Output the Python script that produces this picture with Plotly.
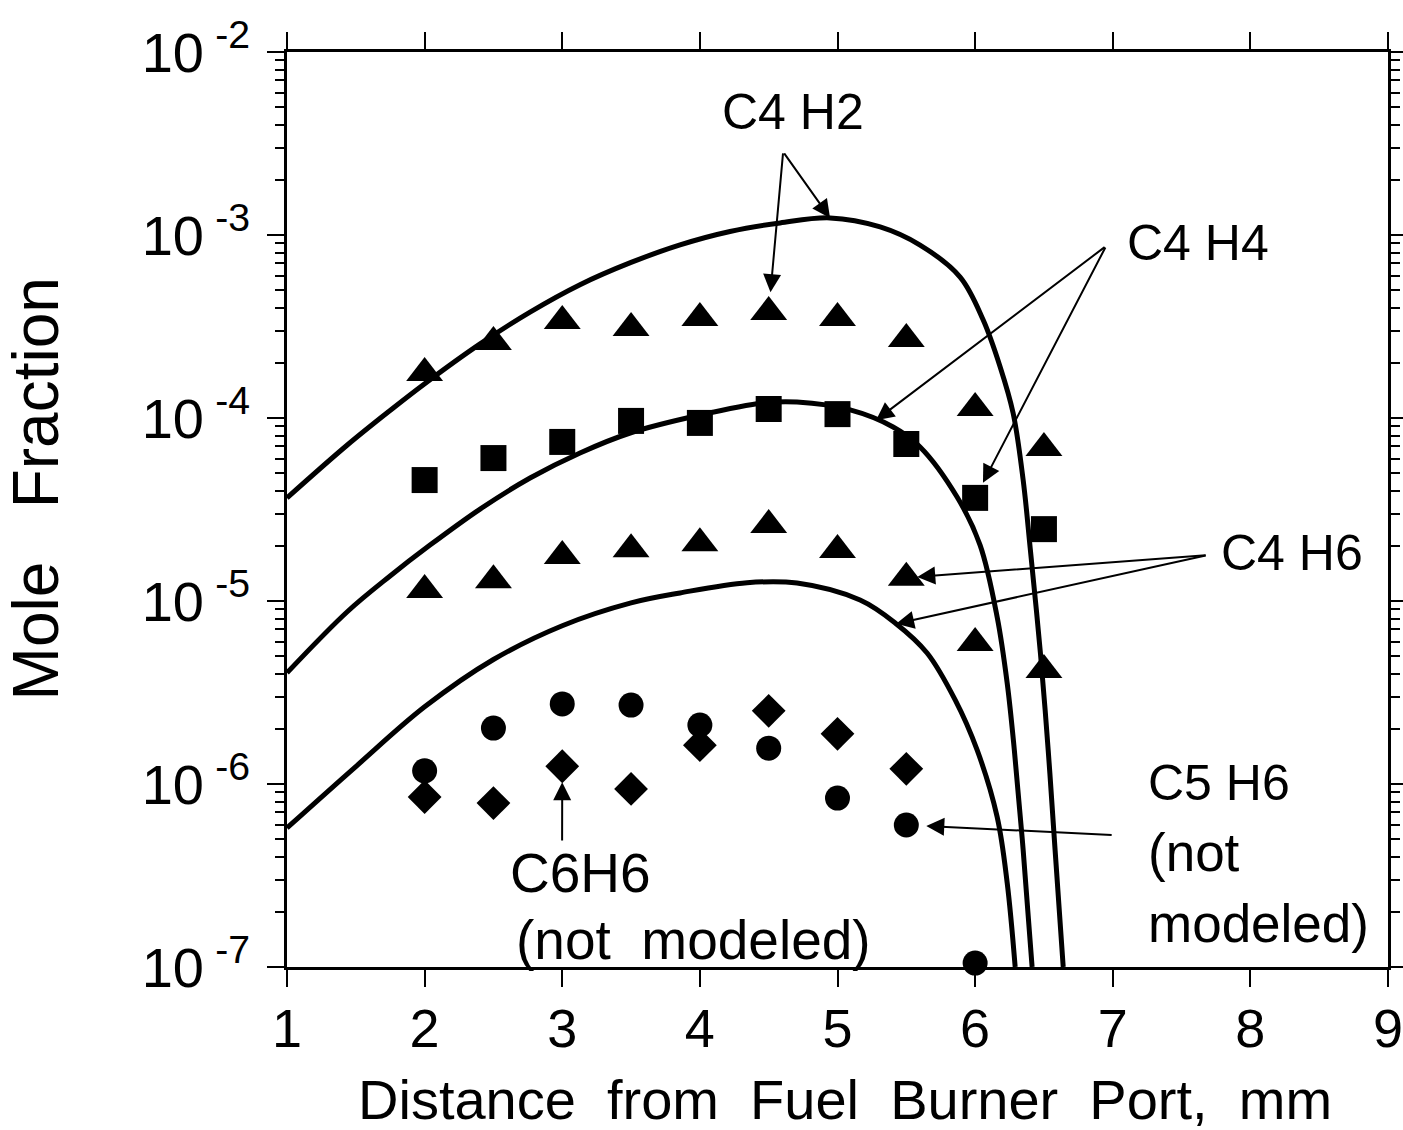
import numpy as np
import plotly.graph_objects as go

# ---------------- data ----------------
x_meas = [2.0, 2.5, 3.0, 3.5, 4.0, 4.5, 5.0, 5.5, 6.0, 6.5]
c4h2_meas = [1.76e-4, 2.60e-4, 3.39e-4, 3.10e-4, 3.52e-4, 3.79e-4, 3.52e-4, 2.70e-4, 1.135e-4, 6.85e-5]
c4h4_meas = [4.58e-5, 6.04e-5, 7.40e-5, 9.64e-5, 9.40e-5, 1.12e-4, 1.05e-4, 7.21e-5, 3.66e-5, 2.47e-5]
c4h6_meas = [1.15e-5, 1.30e-5, 1.76e-5, 1.92e-5, 2.07e-5, 2.60e-5, 1.90e-5, 1.34e-5, 5.89e-6, 4.20e-6]
x_c5h6 = [2.0, 2.5, 3.0, 3.5, 4.0, 4.5, 5.0, 5.5, 6.0]
c5h6_meas = [1.18e-6, 2.02e-6, 2.74e-6, 2.70e-6, 2.10e-6, 1.57e-6, 8.38e-7, 5.97e-7, 1.05e-7]
x_c6h6 = [2.0, 2.5, 3.0, 3.5, 4.0, 4.5, 5.0, 5.5]
c6h6_meas = [8.49e-7, 7.87e-7, 1.25e-6, 9.40e-7, 1.63e-6, 2.51e-6, 1.88e-6, 1.21e-6]

x_c4h2_model = [1.000, 1.436, 1.749, 2.003, 2.403, 2.766, 3.129, 3.500, 3.856, 4.219, 4.583, 4.946,
                5.310, 5.600, 5.891, 6.058, 6.182, 6.276, 6.349, 6.400, 6.475, 6.531, 6.581, 6.640]
c4h2_model = [3.66e-5, 7.10e-5, 1.10e-4, 1.545e-4, 2.54e-4, 3.79e-4, 5.35e-4, 7.08e-4, 8.83e-4, 1.045e-3,
              1.164e-3, 1.240e-3, 1.107e-3, 8.81e-4, 5.89e-4, 3.44e-4, 1.90e-4, 1.064e-4, 4.58e-5,
              1.95e-5, 5.13e-6, 1.53e-6, 4.36e-7, 1.0e-7]

x_c4h4_model = [1.000, 1.436, 1.749, 2.039, 2.403, 2.766, 3.129, 3.493, 4.001, 4.459, 4.706, 5.092,
                5.404, 5.600, 5.869, 6.036, 6.160, 6.233, 6.285, 6.349, 6.414]
c4h4_model = [4.05e-6, 8.71e-6, 1.37e-5, 2.02e-5, 3.18e-5, 4.70e-5, 6.44e-5, 8.28e-5, 1.038e-4, 1.208e-4,
              1.222e-4, 1.107e-4, 8.93e-5, 6.95e-5, 3.70e-5, 2.02e-5, 8.18e-6, 3.56e-6, 1.53e-6,
              4.36e-7, 1.0e-7]

x_c4h6_model = [1.000, 1.500, 2.000, 2.500, 3.000, 3.500, 3.856, 4.343, 4.706, 5.164, 5.419, 5.651,
                5.855, 6.015, 6.160, 6.233, 6.291]
c4h6_model = [5.75e-7, 1.245e-6, 2.64e-6, 4.79e-6, 7.33e-6, 9.77e-6, 1.107e-5, 1.259e-5, 1.253e-5,
              1.012e-5, 7.59e-6, 5.20e-6, 2.88e-6, 1.53e-6, 6.61e-7, 2.88e-7, 1.0e-7]

x_ticks = [1, 2, 3, 4, 5, 6, 7, 8, 9]
y_tick_exp = [-7, -6, -5, -4, -3, -2]
y_tick_text = ["10\u2009<sup>-%d</sup>" % (-e) for e in y_tick_exp]

FONT = "Liberation Sans, Arial, Helvetica, sans-serif"
BLACK = "black"
NB = "\u00a0"

fig = go.Figure()

# model curves
for xm, ym in [(x_c4h2_model, c4h2_model), (x_c4h4_model, c4h4_model), (x_c4h6_model, c4h6_model)]:
    fig.add_trace(go.Scatter(x=xm, y=ym, mode="lines",
                             line=dict(color=BLACK, width=5, shape="spline", smoothing=1.0),
                             showlegend=False, hoverinfo="skip"))

# measured points
def pts(x, y, symbol, size):
    fig.add_trace(go.Scatter(x=x, y=y, mode="markers", cliponaxis=False,
                             marker=dict(symbol=symbol, size=size, color=BLACK, line=dict(width=0)),
                             showlegend=False))

pts(x_meas, c4h2_meas, "triangle-up", 32)
pts(x_meas, c4h4_meas, "square", 26)
pts(x_meas, c4h6_meas, "triangle-up", 32)
pts(x_c5h6, c5h6_meas, "circle", 25)
pts(x_c6h6, c6h6_meas, "diamond", 26)

L = np.log10
ann = []

def arrow(x, y, ax, ay, standoff=0):
    ann.append(dict(x=x, y=y, ax=ax, ay=ay, xref="x", yref="y", axref="x", ayref="y",
                    text="", showarrow=True, arrowhead=2, arrowsize=1.8, arrowwidth=2,
                    arrowcolor=BLACK, standoff=standoff))

def label(x, y, text, xanchor="center", size=50):
    ann.append(dict(x=x, y=y, xref="x", yref="y", text=text, showarrow=False,
                    xanchor=xanchor, yanchor="middle",
                    font=dict(family=FONT, size=size, color=BLACK)))

# C4H2
label(4.677, -2.328, "C4 H2")
arrow(x_meas[5], L(c4h2_meas[5]), 4.605, -2.546, standoff=20)
arrow(x_c4h2_model[11], L(c4h2_model[11]), 4.605, -2.546)
# C4H4
label(7.62, -3.044, "C4 H4")
tx = 5.28
arrow(tx, float(np.interp(tx, x_c4h4_model, L(c4h4_model))), 6.952, -3.060)
arrow(x_meas[8], L(c4h4_meas[8]), 6.952, -3.060, standoff=17)
# C4H6
label(8.30, -4.738, "C4 H6")
arrow(x_meas[7], L(c4h6_meas[7]), 7.686, -4.749, standoff=11)
tx = 5.426
arrow(tx, float(np.interp(tx, x_c4h6_model, L(c4h6_model))), 7.686, -4.749)
# C5H6
label(7.245, -5.995, "C5 H6", xanchor="left")
label(7.245, -6.377, "(not", xanchor="left", size=53)
label(7.245, -6.760, "modeled)", xanchor="left", size=53)
arrow(x_c5h6[7], L(c5h6_meas[7]), 7.003, -6.279, standoff=20)
# C6H6
label(3.129, -6.486, "C6H6", size=55)
label(3.951, -6.852, "(not" + NB + NB + "modeled)", size=55)
arrow(x_c6h6[2], L(c6h6_meas[2]), 2.999, -6.317, standoff=16)

# axis titles
ann.append(dict(x=-0.228, y=0.523, xref="paper", yref="paper",
                text="Mole" + NB * 3 + "Fraction",
                textangle=-90, showarrow=False, xanchor="center", yanchor="middle",
                font=dict(family=FONT, size=64, color=BLACK)))
ann.append(dict(x=0.5068, y=-0.1445, xref="paper", yref="paper",
                text=(NB * 2).join(["Distance", "from", "Fuel", "Burner", "Port,", "mm"]),
                showarrow=False, xanchor="center", yanchor="middle",
                font=dict(family=FONT, size=56, color=BLACK)))

minor_vals = [k * 10.0 ** e for e in range(-7, -2) for k in range(2, 10)]

fig.update_layout(
    width=1403, height=1130, autosize=False,
    margin=dict(l=287, r=15, t=52, b=163, autoexpand=False),
    paper_bgcolor="white", plot_bgcolor="white",
    font=dict(family=FONT, color=BLACK),
    annotations=ann,
    showlegend=False,
    xaxis=dict(range=[1, 9], tickmode="array", tickvals=x_ticks, ticks="outside", ticklen=17,
               tickwidth=2, tickcolor=BLACK, linecolor=BLACK, linewidth=2.5, mirror="ticks",
               showgrid=False, zeroline=False, tickfont=dict(family=FONT, size=54, color=BLACK),
               ticklabelstandoff=-5, automargin=False, ticklabeloverflow="allow"),
    yaxis=dict(type="log", range=[-7, -2], tickmode="array",
               tickvals=[10.0 ** e for e in y_tick_exp], ticktext=y_tick_text,
               ticks="outside", ticklen=17, tickwidth=2, tickcolor=BLACK,
               linecolor=BLACK, linewidth=2.5, mirror="ticks", showgrid=False, zeroline=False,
               tickfont=dict(family=FONT, size=56, color=BLACK), ticklabelstandoff=6,
               automargin=False, ticklabeloverflow="allow",
               minor=dict(tickmode="array", tickvals=minor_vals, ticks="outside", ticklen=9,
                          tickwidth=2, tickcolor=BLACK, showgrid=False)),
)

fig.write_html("out.html", config={"responsive": False},
               post_script="document.documentElement.style.overflow='hidden';"
                           "document.body.style.overflow='hidden';document.body.style.margin='0';")
